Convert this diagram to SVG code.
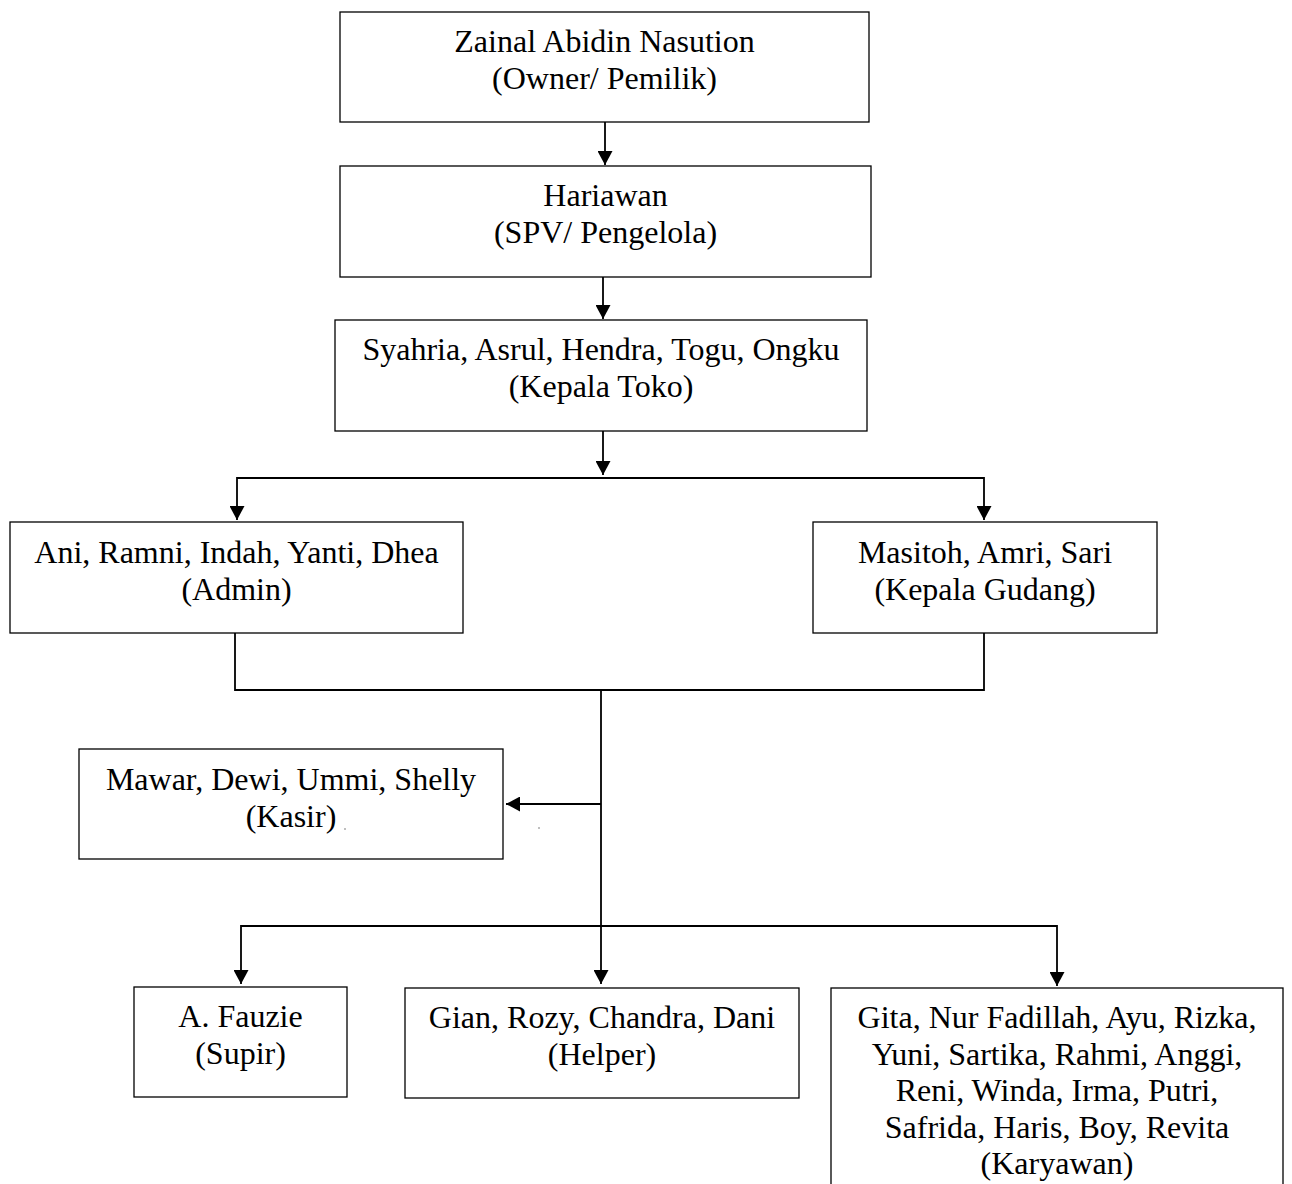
<svg xmlns="http://www.w3.org/2000/svg" width="1292" height="1184" viewBox="0 0 1292 1184">
<style>
.box{fill:#fff;stroke:#000;stroke-width:1.3}
.t{font-family:"Liberation Serif","Times New Roman",serif;font-size:32px;fill:#000;text-anchor:middle}
.c{fill:none;stroke:#000;stroke-width:1.8}
</style>
<defs>
<marker id="ah" viewBox="0 0 14 15" refX="14" refY="7.5" markerWidth="14" markerHeight="15" markerUnits="userSpaceOnUse" orient="auto">
<path d="M0,0 L14,7.5 L0,15 z" fill="#000"/>
</marker>
</defs>
<rect width="1292" height="1184" fill="#fff"/>
<g id="connectors">
<path class="c" d="M605,122 V165" marker-end="url(#ah)"/>
<path class="c" d="M603,277 V319" marker-end="url(#ah)"/>
<path class="c" d="M603,431 V475" marker-end="url(#ah)"/>
<path class="c" d="M603,478 H237 V520" marker-end="url(#ah)"/>
<path class="c" d="M603,478 H984 V520" marker-end="url(#ah)"/>
<path class="c" d="M235,633 V690 H984 V633"/>
<path class="c" d="M601,690 V984" marker-end="url(#ah)"/>
<path class="c" d="M601,804 H506" marker-end="url(#ah)"/>
<path class="c" d="M601,926 H241 V984" marker-end="url(#ah)"/>
<path class="c" d="M601,926 H1057 V986" marker-end="url(#ah)"/>
</g>
<g id="owner">
<rect class="box" x="340" y="12" width="529" height="110"/>
<text class="t" x="604.5" y="52">Zainal Abidin Nasution</text>
<text class="t" x="604.5" y="89">(Owner/ Pemilik)</text>
</g>
<g id="spv">
<rect class="box" x="340" y="166" width="531" height="111"/>
<text class="t" x="605.5" y="206">Hariawan</text>
<text class="t" x="605.5" y="243">(SPV/ Pengelola)</text>
</g>
<g id="kepala-toko">
<rect class="box" x="335" y="320" width="532" height="111"/>
<text class="t" x="601" y="360">Syahria, Asrul, Hendra, Togu, Ongku</text>
<text class="t" x="601" y="397">(Kepala Toko)</text>
</g>
<g id="admin">
<rect class="box" x="10" y="522" width="453" height="111"/>
<text class="t" x="236.5" y="563">Ani, Ramni, Indah, Yanti, Dhea</text>
<text class="t" x="236.5" y="600">(Admin)</text>
</g>
<g id="kepala-gudang">
<rect class="box" x="813" y="522" width="344" height="111"/>
<text class="t" x="985" y="563">Masitoh, Amri, Sari</text>
<text class="t" x="985" y="600">(Kepala Gudang)</text>
</g>
<g id="kasir">
<rect class="box" x="79" y="749" width="424" height="110"/>
<text class="t" x="291" y="790">Mawar, Dewi, Ummi, Shelly</text>
<text class="t" x="291" y="827">(Kasir)</text>
<circle cx="345" cy="829" r="1" fill="#aaa"/>
<circle cx="539" cy="828" r="1" fill="#aaa"/>
</g>
<g id="supir">
<rect class="box" x="134" y="987" width="213" height="110"/>
<text class="t" x="240.5" y="1027">A. Fauzie</text>
<text class="t" x="240.5" y="1064">(Supir)</text>
</g>
<g id="helper">
<rect class="box" x="405" y="988" width="394" height="110"/>
<text class="t" x="602" y="1028">Gian, Rozy, Chandra, Dani</text>
<text class="t" x="602" y="1065">(Helper)</text>
</g>
<g id="karyawan">
<rect class="box" x="831" y="988" width="452" height="220"/>
<text class="t" x="1057" y="1028">Gita, Nur Fadillah, Ayu, Rizka,</text>
<text class="t" x="1057" y="1065">Yuni, Sartika, Rahmi, Anggi,</text>
<text class="t" x="1057" y="1101">Reni, Winda, Irma, Putri,</text>
<text class="t" x="1057" y="1138">Safrida, Haris, Boy, Revita</text>
<text class="t" x="1057" y="1174">(Karyawan)</text>
</g>
</svg>
